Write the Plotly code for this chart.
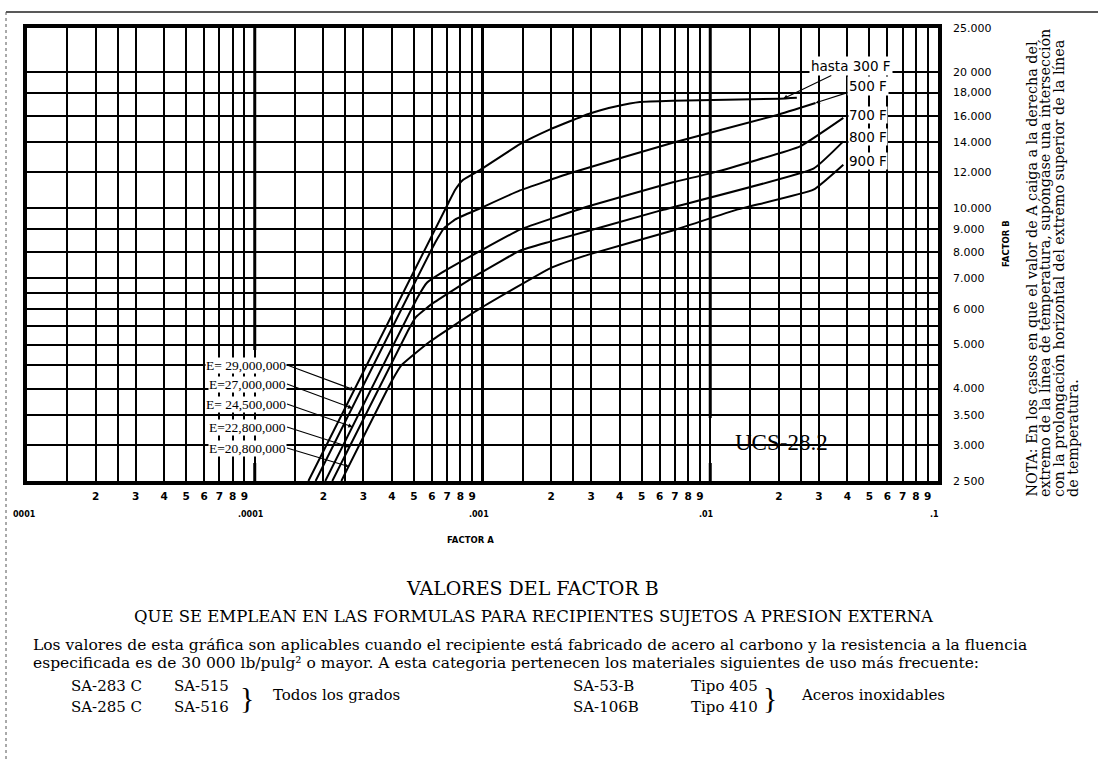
import math
import plotly.graph_objects as go

# ---------------- data ----------------
temp_names = ["hasta 300 F", "500 F", "700 F", "800 F", "900 F"]
modulus_names = ["E= 29,000,000", "E=27,000,000", "E= 24,500,000", "E=22,800,000", "E=20,800,000"]

a_300 = [0.000172, 0.00071, 0.00076, 0.00082, 0.000977, 0.00146, 0.00198, 0.00292, 0.00388, 0.00491, 0.00685, 0.0202, 0.024]
b_300 = [2500, 10300, 11000, 11550, 12150, 13850, 14930, 16150, 16790, 17160, 17270, 17450, 17530]
a_500 = [0.000185, 0.00062, 0.00068, 0.00076, 0.000977, 0.00146, 0.00242, 0.00685, 0.0195, 0.029]
b_500 = [2500, 8400, 9050, 9450, 10000, 10950, 11950, 13950, 16050, 17080]
a_700 = [0.000204, 0.00052, 0.00057, 0.00066, 0.000977, 0.00146, 0.00292, 0.00685, 0.0104, 0.0248, 0.0384]
b_700 = [2500, 6370, 6850, 7200, 8050, 8970, 10100, 11410, 12000, 13700, 15830]
a_800 = [0.000219, 0.00047, 0.00051, 0.00060, 0.000977, 0.00146, 0.00198, 0.00602, 0.0284, 0.0384]
b_800 = [2500, 5360, 5750, 6150, 7190, 8060, 8440, 9880, 12230, 14050]
a_900 = [0.00024, 0.00040, 0.00044, 0.000588, 0.000977, 0.00198, 0.00292, 0.00685, 0.0131, 0.0284, 0.0384]
b_900 = [2500, 4160, 4500, 5080, 6010, 7370, 7900, 8930, 9930, 10990, 12480]

# points where the E= leader arrows touch the elastic lines
e_head_a = [0.000274, 0.000268, 0.000269, 0.000261, 0.000259]
e_head_b = [3970, 3620, 3290, 2970, 2690]
# points where the temperature leader arrows touch the curves
t_head_a = [0.0209, 0.029]
t_head_b = [17450, 17080]

x_decades = [1e-5, 1e-4, 1e-3, 1e-2]
x_grid_mult = [1, 1.5, 2, 2.5, 3, 4, 5, 6, 7, 8, 9]
x_decade_text = ["0001", ".0001", ".001", ".01", ".1"]

y_grid = [2500, 3000, 3500, 4000, 4500, 5000, 5500, 6000, 6500, 7000, 8000, 9000,
          10000, 12000, 14000, 16000, 18000, 20000, 25000]
y_label_vals = [2500, 3000, 3500, 4000, 5000, 6000, 7000, 8000, 9000, 10000,
                12000, 14000, 16000, 18000, 20000, 25000]
y_label_text = ["2 500", "3.000", "3.500", "4.000", "5.000", "6 000", "7.000", "8.000", "9.000",
                "10.000", "12.000", "14.000", "16.000", "18,000", "20 000", "25.000"]

nota_lines = [
    "NOTA: En los casos en que el valor de A caiga a la derecha del",
    "extremo de la línea de temperatura, supóngase una intersección",
    "con la prolongación horizontal del extremo superior de la línea",
    "de temperatura.",
]

# ---------------- layout geometry ----------------
W, H = 1098, 760
PL, PR, PT, PB = 27, 938, 28, 481
PW, PH = PR - PL, PB - PT
XMIN, XMAX = -5.0, -1.0
YMIN, YMAX = math.log10(2500), math.log10(25000)

SERIF = "DejaVu Serif, Liberation Serif, serif"
TIMES = "Liberation Serif, Times New Roman, serif"
SANS = "DejaVu Sans, Liberation Sans, sans-serif"


def xp(px):
    return (px - PL) / PW


def yp(py):
    return (PB - py) / PH


def data_px(a, b):
    fx = (math.log10(a) - XMIN) / (XMAX - XMIN)
    fy = (math.log10(b) - YMIN) / (YMAX - YMIN)
    return PL + fx * PW, PB - fy * PH


def note(text, px, py, size, family=SERIF, xanchor="center", yanchor="middle",
         angle=0, bold=False, bg=None):
    d = dict(text=text, x=xp(px), y=yp(py), xref="paper", yref="paper", showarrow=False,
             xanchor=xanchor, yanchor=yanchor, textangle=angle,
             font=dict(family=family, size=size, color="black",
                       weight="bold" if bold else "normal"),
             borderpad=0)
    if bg:
        d["bgcolor"] = bg
    return d


fig = go.Figure()

curves = [(a_300, b_300), (a_500, b_500), (a_700, b_700), (a_800, b_800), (a_900, b_900)]
for name, (a, b) in zip(temp_names, curves):
    fig.add_trace(go.Scatter(x=a, y=b, mode="lines", name=name,
                             line=dict(color="black", width=2, shape="spline", smoothing=0.35),
                             hoverinfo="skip", showlegend=False))

# ---------------- axes ----------------
x_tickvals = [m * d for d in x_decades for m in x_grid_mult] + [0.1]
x_ticktext = [(str(int(m)) if (m >= 2 and m == int(m)) else "") for d in x_decades for m in x_grid_mult] + [""]

y_ticktext = [y_label_text[y_label_vals.index(v)] if v in y_label_vals else "" for v in y_grid]

fig.update_xaxes(type="log", range=[XMIN, XMAX], tickvals=x_tickvals, ticktext=x_ticktext,
                 showgrid=True, gridcolor="black", gridwidth=1.5, zeroline=False,
                 showline=True, linecolor="black", linewidth=3.5, mirror=True, ticks="",
                 tickfont=dict(family=SANS, size=10.5, color="black", weight="bold"),
                 ticklabelstandoff=3, automargin=False)
fig.update_yaxes(type="log", range=[YMIN, YMAX], tickvals=y_grid, ticktext=y_ticktext,
                 side="right", showgrid=True, gridcolor="black", gridwidth=1.5, zeroline=False,
                 showline=True, linecolor="black", linewidth=3.5, mirror=True, ticks="",
                 tickfont=dict(family=SANS, size=11, color="black"),
                 ticklabelstandoff=9, automargin=False)

shapes = []
# heavier decade lines (drawn under everything else)
for d in x_decades[1:]:
    fx = (math.log10(d) - XMIN) / (XMAX - XMIN)
    shapes.append(dict(type="line", xref="paper", yref="paper", x0=fx, x1=fx, y0=0, y1=1,
                       line=dict(color="black", width=3), layer="below"))
# white label panels that hide the grid
for (x0, y0, x1, y1) in [(191, 350, 290, 463), (679, 418, 878, 463)]:
    shapes.append(dict(type="rect", xref="paper", yref="paper", x0=xp(x0), x1=xp(x1),
                       y0=yp(y1), y1=yp(y0), fillcolor="white", line=dict(width=0), layer="between"))
# page frame lines
shapes.append(dict(type="line", xref="paper", yref="paper", x0=xp(6), x1=xp(1098), y0=yp(12), y1=yp(12),
                   line=dict(color="#222", width=1.6)))
shapes.append(dict(type="line", xref="paper", yref="paper", x0=xp(6), x1=xp(6), y0=yp(12), y1=yp(760),
                   line=dict(color="#555", width=1, dash="dot")))

ann = []
# E= labels with leader arrows
label_py = [365, 384, 404, 427, 448]
for i, lab in enumerate(modulus_names):
    hx, hy = data_px(e_head_a[i], e_head_b[i])
    ann.append(dict(text=lab, x=xp(hx), y=yp(hy), xref="paper", yref="paper",
                    showarrow=True, ax=287 - hx, ay=label_py[i] - hy, axref="pixel", ayref="pixel",
                    xanchor="right", yanchor="middle", arrowhead=2, arrowsize=0.8, arrowwidth=1.1,
                    arrowcolor="black", font=dict(family=TIMES, size=13.5, color="black"),
                    bgcolor="white", borderpad=0))

# temperature labels
t_pos = [(851, 66), (868, 86), (868, 115), (868, 137), (868, 161)]
for i, lab in enumerate(temp_names):
    px, py = t_pos[i]
    if i < 2:
        hx, hy = data_px(t_head_a[i], t_head_b[i])
        ann.append(dict(text=lab, x=xp(hx), y=yp(hy), xref="paper", yref="paper",
                        showarrow=True, ax=px - hx, ay=py - hy, axref="pixel", ayref="pixel",
                        arrowhead=2, arrowsize=0.8, arrowwidth=1.1, arrowcolor="black",
                        font=dict(family=SANS, size=13.5, color="black"), bgcolor="white", borderpad=1))
    else:
        ann.append(note(lab, px, py, 13.5, family=SANS, bg="white"))

ann.append(note("UCS-28.2", 781, 442, 23, family=TIMES))
ann.append(note("FACTOR B", 1006, 244, 8.5, family=SANS, angle=-90, bold=True))
for i, line in enumerate(nota_lines):
    ann.append(note(line, 1031 + 14 * i, 498, 14.3, family=SERIF, angle=-90, yanchor="bottom"))

# decade labels and axis title
ann.append(note(x_decade_text[0], 24, 514, 8, family=SANS, bold=True))
for d, t in zip(x_decades[1:] + [0.1], x_decade_text[1:]):
    px, _ = data_px(d, 2500)
    ann.append(note(t, px - 4, 514, 8, family=SANS, bold=True))
ann.append(note("FACTOR A", 470, 540, 8.5, family=SANS, bold=True))

# titles and text block
ann.append(note("VALORES DEL FACTOR B", 532, 588, 19))
ann.append(note("QUE SE EMPLEAN EN LAS FORMULAS PARA RECIPIENTES SUJETOS A PRESION EXTERNA", 534, 616, 16.5))
ann.append(note("Los valores de esta gráfica son aplicables cuando el recipiente está fabricado de acero al carbono y la resistencia a la fluencia",
                32, 645, 15.5, xanchor="left"))
ann.append(note("especificada es de 30 000 lb/pulg² o mayor. A esta categoria pertenecen los materiales siguientes de uso más frecuente:",
                32, 663, 15.5, xanchor="left"))
ann.append(note("SA-283 C", 70, 686, 15, xanchor="left"))
ann.append(note("SA-515", 173, 686, 15, xanchor="left"))
ann.append(note("SA-285 C", 70, 707, 15, xanchor="left"))
ann.append(note("SA-516", 173, 707, 15, xanchor="left"))
ann.append(note("}", 247, 697, 30, family=TIMES))
ann.append(note("Todos los grados", 272, 695, 15, xanchor="left"))
ann.append(note("SA-53-B", 572, 686, 15, xanchor="left"))
ann.append(note("SA-106B", 572, 707, 15, xanchor="left"))
ann.append(note("Tipo 405", 690, 686, 15, xanchor="left"))
ann.append(note("Tipo 410", 690, 707, 15, xanchor="left"))
ann.append(note("}", 770, 697, 30, family=TIMES))
ann.append(note("Aceros inoxidables", 800, 695, 15, xanchor="left"))

fig.update_layout(width=W, height=H, margin=dict(l=PL, r=W - PR, t=PT, b=H - PB, autoexpand=False),
                  paper_bgcolor="white", plot_bgcolor="white", shapes=shapes, annotations=ann,
                  showlegend=False)

fig.write_html("out.html", config={"displayModeBar": False})
